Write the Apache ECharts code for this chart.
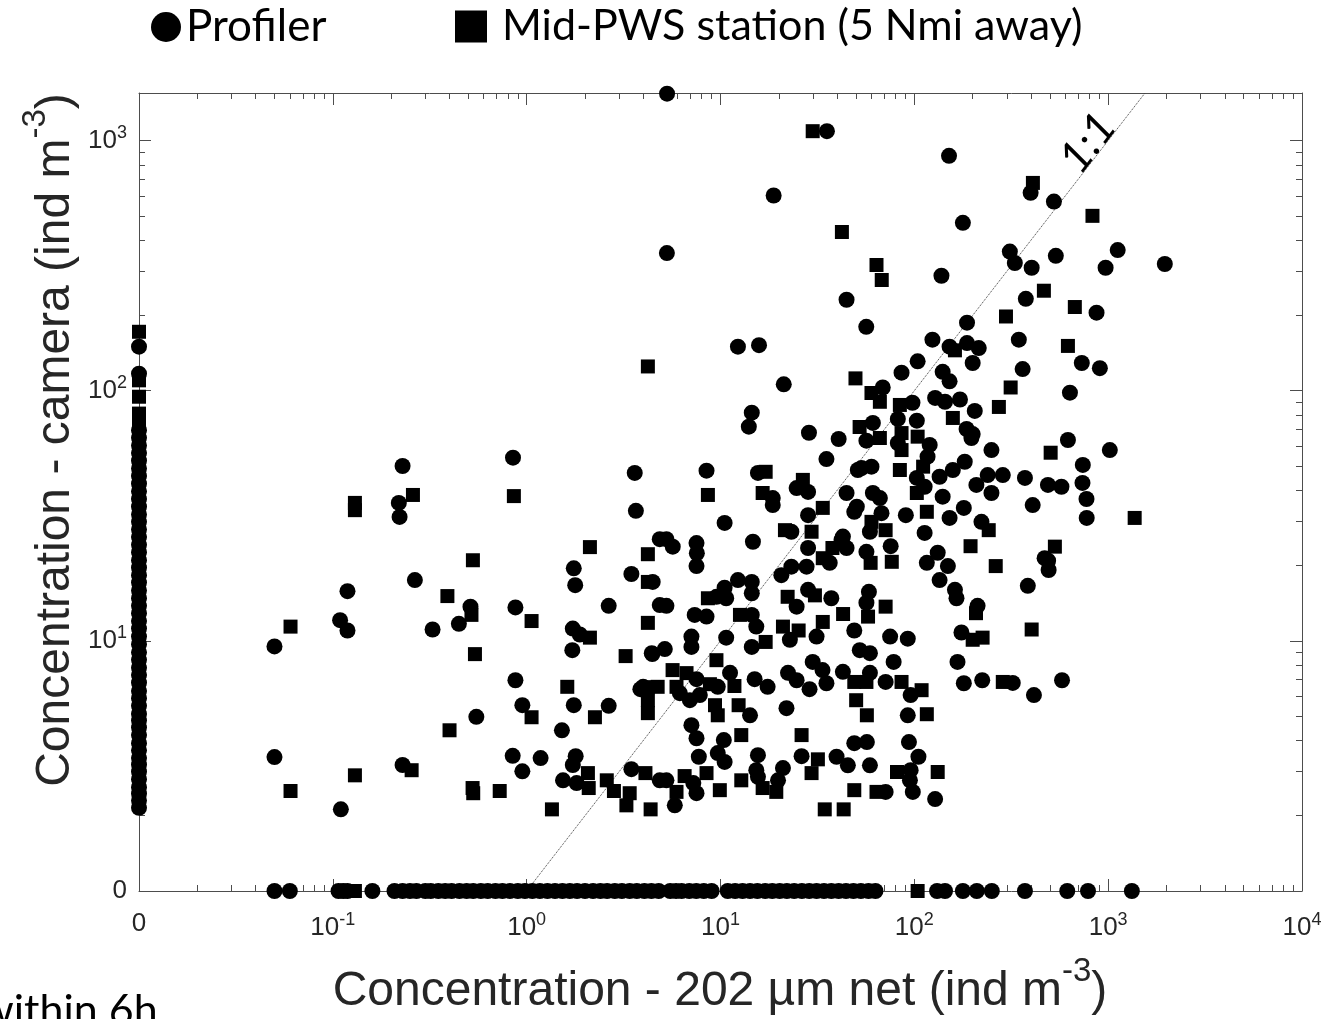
<!DOCTYPE html>
<html><head><meta charset="utf-8">
<script src="https://cdn.jsdelivr.net/npm/echarts@6/dist/echarts.min.js"></script>
<style>html,body{margin:0;padding:0;background:#fff;overflow:hidden;} #c{width:1323px;height:1019px;}</style>
</head><body><div id="c"></div>
<script>
// ---- Data (ind m^-3): [net, camera] ----
const profiler = [
[0.05,9.5],[0.109,12.1],[0.119,11.0],[0.119,15.8],[0.05,3.43],[0.11,2.12],[0.229,3.19],[0.265,17.5],[0.221,31.3],[0.219,35.6],[0.229,50],[0.327,11.1],[0.447,11.7],[0.513,13.7],[0.55,4.97],[0.85,54],[0.875,13.6],[0.875,6.96],[0.95,5.53],[0.847,3.47],[0.95,3.01],[1.18,3.40],[1.52,4.39],[1.73,3.19],[1.54,2.77],[1.81,2.70],[1.79,3.46],[1.75,5.53],[1.72,9.18],[1.73,11.2],[1.88,10.6],[1.75,19.5],[1.78,16.7],[2.65,13.8],[3.47,18.5],[2.65,5.5],[3.47,3.07],[3.86,6.41],[3.66,33.1],[3.61,46.9],[4.47,17.2],[4.45,8.85],[4.86,25.5],[4.86,13.9],[4.86,2.77],[5.29,355],[5.3,1540],[8.47,47.9],[15.6,46.9],[18.8,603],[12.3,150],[15.8,152],[21.2,106],[14.5,81.7],[14.0,71.8],[28.6,67.9],[40.7,64.1],[35.2,53.3],[35.4,1090],[44.7,231],[56.5,180],[24.7,40.8],[28.3,39.4],[51.1,48.2],[44.7,39.0],[18.6,37.2],[18.6,34.9],[28.3,31.8],[50.5,34.4],[10.5,29.6],[14.7,24.9],[23.2,27.3],[5.26,25.5],[5.67,23.8],[7.52,24.6],[7.55,22.4],[7.52,19.9],[28.3,23.5],[42.1,25.3],[44.7,23.5],[36.6,20.5],[27.8,19.8],[23.2,19.8],[20.6,18.3],[10.5,16.3],[12.3,17.5],[14.5,17.2],[14.5,15.5],[9.53,15.0],[10.7,14.8],[24.7,13.7],[28.3,16.0],[37.3,14.8],[5.26,13.8],[7.36,12.7],[8.47,12.5],[14.5,12.7],[15.3,11.4],[22.8,10.1],[31.3,10.4],[49.0,11.0],[10.7,10.3],[14.5,9.46],[7.08,10.4],[7.08,9.46],[4.42,8.93],[5.16,9.27],[11.2,7.45],[15.0,7.03],[17.5,6.55],[22.3,7.45],[24.7,6.96],[28.8,6.41],[29.9,8.24],[33.6,7.64],[35.2,6.77],[42.8,7.52],[7.52,7.03],[3.99,6.55],[6.17,6.18],[6.95,5.79],[7.82,6.07],[9.68,6.55],[14.2,5.04],[21.9,5.38],[7.08,4.60],[7.52,4.08],[10.4,4.01],[7.73,3.44],[9.68,3.56],[10.5,3.28],[15.6,3.49],[15.3,3.04],[21.0,3.10],[26.2,3.46],[39.7,3.44],[45.4,3.18],[49.0,3.90],[5.26,2.77],[7.24,2.70],[7.52,2.46],[5.81,2.20],[15.6,2.86],[19.8,2.77],
[151,869],[398,618],[525,570],[178,469],[311,360],[330,324],[403,310],[537,346],[138,288],[376,233],[187,187],[124,160],[152,150],[187,155],[215,148],[200,129],[346,160],[362,122],[104,131],[85.9,118],[140,119],[152,109],[68.7,103],[97.8,89.5],[128,93.6],[144,90.3],[172,92.2],[205,83],[61.1,74.3],[82.2,77.1],[103,75.9],[186,70.3],[200,67.1],[197,64.7],[56.6,63.1],[82.2,61.8],[120,60.7],[117,54.5],[182,52],[250,57.9],[53.4,49.1],[60.1,49.7],[103,44.8],[135,45.3],[158,48.2],[209,42],[239,46],[286,46],[372,44.8],[489,42],[250,39],[61.1,39],[140,37.7],
[49,32.8],[66.4,37.2],[67.7,32.4],[113,41.3],[90.4,31.8],[152,31],[180,34],[222,29.9],[408,34.9],[59,27.3],[113,27],[42.8,26.1],[56.6,22.7],[75.5,23.9],[116,20.5],[132,22.5],[149,19.9],[135,17.5],[162,16],[165,14.8],[212,13.8],[385,16.6],[470,21.4],[493,19.2],[58.3,15.7],[56.6,14.2],[75,10.4],[92.5,10.2],[175,10.8],[52.3,9.18],[59,8.93],[78.2,8.24],[167,8.24],[59,7.45],[71.1,6.85],[95.7,6.07],[180,6.77],[224,6.96],[322,6.79],[414,6.07],[578,6.96],[92.5,5.04],[56.9,3.94],[93.8,3.94],[105,3.44],[59,3.18],[95.7,3.04],[94.9,2.77],[71.1,2.49],[98.2,2.49],[128,2.33],
[1120,365],[970,310],[1960,321],[871,205],[731,129],[906,123],[635,98.2],[620,63.5],[1020,57.9],[740,50.5],[574,41.3],[737,42.8],[773,36.9],[775,31],[490,20.9]
];
// profiler samples with net = 0 (camera values)
const profilerNetZero = [2.15,2.3,2.45,2.6,2.8,3.0,3.2,3.4,3.65,3.9,4.2,4.5,4.8,5.1,5.5,5.9,6.3,6.8,7.3,7.8,8.4,9.0,9.7,10.4,11.2,12,12.9,13.8,14.8,15.9,17.1,18.3,19.6,21,22.6,24.2,26,27.9,29.9,32,34.4,36.9,39.6,42.5,45.6,48.9,52.5,56.3,60.4,64.8,69.5,117,150];
// profiler samples with camera = 0 (net values)
const profilerCamZero = [0.05,0.06,0.107,0.113,0.119,0.16,0.208,0.229,0.25,0.27,0.3,0.32,0.35,0.38,0.41,0.45,0.49,0.53,0.58,0.63,0.69,0.75,0.82,0.9,0.98,1.07,1.17,1.28,1.4,1.53,1.67,1.82,2.0,2.2,2.4,2.6,2.85,3.1,3.4,3.7,4.05,4.4,4.8,5.5,5.9,6.3,6.9,7.5,8.2,9.0,10.9,11.9,13,14.2,15.5,17,18.5,20.2,22,24,26.3,28.7,31.3,34.2,37.3,40.7,44.4,48.5,53,58,63,131,144,178,210,251,372,615,787,1325];

const station = [
[0.0605,11.4],[0.0605,2.51],[0.13,2.90],[0.255,3.04],[0.13,35.6],[0.13,33.3],[0.259,38.3],[0.859,37.9],[2.12,23.7],[0.528,21.0],[4.22,22.2],[4.22,17.2],[0.39,15.1],[0.519,12.7],[1.06,12.0],[4.22,11.8],[2.12,10.3],[0.541,8.85],[3.24,8.69],[1.62,6.55],[1.06,4.95],[2.25,4.95],[4.22,6.53],[4.22,5.79],[4.22,5.14],[0.40,4.39],[2.07,2.96],[2.09,2.58],[2.59,2.77],[2.82,2.51],[4.1,2.96],[3.4,2.46],[3.27,2.20],[4.36,2.12],[0.526,2.58],[0.53,2.46],[0.726,2.51],[1.35,2.12],[4.22,125],[29.9,1090],[42.3,431],[49.7,112],[52.2,71.6],[17.1,47.4],[26.6,44],[8.61,38.3],[16.5,39],[33.7,34],[21.5,27.7],[29.5,27.3],[37.8,23.5],[33.7,21.4],[8.61,14.8],[22.2,15],[30.7,15.2],[12.6,12.7],[21,11.4],[25.3,11],[33.7,11.9],[42.9,12.8],[17.1,9.9],[9.53,8.37],[49,6.85],[5.66,7.64],[6.68,7.43],[4.74,6.55],[5.93,6.55],[8.82,6.71],[11.8,6.6],[9.37,5.53],[9.68,5.04],[12.4,5.53],[50.1,5.79],[12.8,4.2],[26.2,4.2],[31.8,3.36],[29.5,2.96],[6.53,2.88],[8.47,2.96],[5.93,2.49],[9.92,2.53],[12.8,2.77],[16.5,2.58],[19.4,2.49],[34.5,2.12],[43.2,2.12],[49,2.53],
[409,677],[63.8,318],[67.9,277],[466,251],[297,198],[162,145],[60.1,97.9],[66.4,90.3],[84.2,87.7],[314,103],[273,86.1],[158,77.8],[85.9,67.7],[66.4,64.7],[104,65.5],[85.9,57.9],[111,49.7],[84.2,48.2],[505,56.5],[103,39],
[116,32.8],[242,27.7],[60.1,29.9],[71.1,27.7],[59.5,20.5],[76.5,20.7],[195,23.9],[263,19.9],[208,12.9],[531,23.8],[403,11.1],[57.7,12.5],[71.1,13.7],[200,10.1],[225,10.3],[56.6,6.85],[85.9,6.85],[109,6.35],[286,6.85],[56.9,5.04],[116,5.09],[81.4,2.99],[132,2.99],[63.8,2.49],
[830,500],[673,216],[620,151],[1370,31]
];
const stationNetZero = [172,110,94.6,81,72,64,50,20,8];
const stationCamZero = [0.13,1.05,30,104];

const oneToOne = [1, 1549];
const xTickValues = [0, 0.1, 1, 10, 100, 1000, 10000];
const xTickLabels = ['0','10^-1','10^0','10^1','10^2','10^3','10^4'];
const yTickValues = [0, 10, 100, 1000];
const yTickLabels = ['0','10^1','10^2','10^3'];

// ---- scale helpers: log10 axes where 0 sits at the lower end ----
const X_MIN = -2, X_MAX = 4, Y_MIN = 0, Y_MAX = Math.log10(1549);
const lx = v => v === 0 ? X_MIN : Math.log10(v);
const ly = v => v === 0 ? Y_MIN : Math.log10(v);
function buildPoints(pairs, netZero, camZero) {
  const out = pairs.map(p => [lx(p[0]), ly(p[1])]);
  netZero.forEach(y => out.push([lx(0), ly(y)]));
  camZero.forEach(x => out.push([lx(x), ly(0)]));
  return out;
}
function minorTicks(lo, hi) {
  const r = [];
  for (let d = Math.floor(lo); d < hi; d++) for (let m = 2; m <= 9; m++) {
    const v = d + Math.log10(m); if (v > lo + 1e-9 && v < hi - 1e-9) r.push(v);
  }
  return r;
}
function fmt(vals, labels, f) {
  return function (v) {
    for (let i = 0; i < vals.length; i++) {
      if (Math.abs(f(vals[i]) - v) < 1e-6) {
        const t = labels[i];
        if (t.indexOf('^') < 0) return '{z|' + t + '}';
        const parts = t.split('^');
        return '{b|' + parts[0] + '}{s|' + parts[1] + '}';
      }
    }
    return '';
  };
}

const AX = '#4d4d4d', TXT = '#262626';
const FONT = '"Liberation Sans", Arial, Helvetica, sans-serif';
const rich = {
  b: {fontSize: 26, lineHeight: 34, fontFamily: FONT, color: TXT},
  s: {fontSize: 18, lineHeight: 18, verticalAlign: 'top', fontFamily: FONT, color: TXT},
  z: {fontSize: 26, lineHeight: 26, fontFamily: FONT, color: TXT}
};
const xMajor = xTickValues.map(lx).filter(v => v > X_MIN && v < X_MAX);
const yMajor = yTickValues.map(ly).filter(v => v > Y_MIN && v < Y_MAX);
const xMinor = minorTicks(X_MIN, X_MAX);
const yMinor = minorTicks(Y_MIN, Y_MAX);

function axis(kind, pos, ticks, len, line, labels) {
  const a = {
    type: 'value', position: pos,
    min: kind === 'x' ? X_MIN : Y_MIN, max: kind === 'x' ? X_MAX : Y_MAX,
    splitLine: {show: false},
    axisLine: {show: line, onZero: false, lineStyle: {color: AX, width: 1}},
    axisTick: {show: true, inside: true, length: len, customValues: ticks, lineStyle: {color: AX, width: 1}},
    axisLabel: {show: false}
  };
  if (labels) {
    const vals = kind === 'x' ? xTickValues : yTickValues;
    const labs = kind === 'x' ? xTickLabels : yTickLabels;
    const f = kind === 'x' ? lx : ly;
    a.axisLabel = {
      show: true, customValues: vals.map(f), formatter: fmt(vals, labs, f), rich: rich,
      fontSize: 26, fontFamily: FONT, color: TXT,
      margin: kind === 'x' ? 20 : 12, showMinLabel: true, showMaxLabel: true, hideOverlap: false
    };
  }
  return a;
}

const chart = echarts.init(document.getElementById('c'), null, {renderer: 'canvas'});
chart.setOption({
  animation: false,
  backgroundColor: '#ffffff',
  grid: {left: 139, right: 21, top: 93, bottom: 128, containLabel: false, outerBoundsMode: 'none'},
  xAxis: [
    axis('x', 'bottom', xMajor, 12, true, true),
    axis('x', 'bottom', xMinor, 6, false, false),
    axis('x', 'top', xMajor, 12, true, false),
    axis('x', 'top', xMinor, 6, false, false)
  ],
  yAxis: [
    axis('y', 'left', yMajor, 12, true, true),
    axis('y', 'left', yMinor, 6, false, false),
    axis('y', 'right', yMajor, 12, true, false),
    axis('y', 'right', yMinor, 6, false, false)
  ],
  legend: [
    {left: 146, top: 0, itemWidth: 30, itemHeight: 30, itemGap: 0, selectedMode: false,
     data: [{name: 'Profiler', icon: 'circle'}],
     textStyle: {fontFamily: 'Lato, "Open Sans", sans-serif', fontSize: 44, color: '#000'}},
    {left: 450, top: 0, itemWidth: 32, itemHeight: 32, itemGap: 0, selectedMode: false,
     data: [{name: 'Mid-PWS station (5 Nmi away)', icon: 'rect'}],
     textStyle: {fontFamily: 'Lato, "Open Sans", sans-serif', fontSize: 43, color: '#000', padding: [0, 0, 0, 10]}}
  ],
  series: [
    {type: 'line', name: '1:1', xAxisIndex: 0, yAxisIndex: 0, silent: true, symbol: 'none',
     data: oneToOne.map(v => [lx(v), ly(v)]),
     lineStyle: {type: 'dotted', width: 1, color: '#3a3a3a'}, z: 1},
    {type: 'scatter', name: 'Profiler', xAxisIndex: 0, yAxisIndex: 0, symbol: 'circle', symbolSize: 16, clip: false,
     itemStyle: {color: '#000', opacity: 1}, data: buildPoints(profiler, profilerNetZero, profilerCamZero), z: 3},
    {type: 'scatter', name: 'Mid-PWS station (5 Nmi away)', xAxisIndex: 0, yAxisIndex: 0, symbol: 'rect', symbolSize: 14, clip: false,
     itemStyle: {color: '#000', opacity: 1}, data: buildPoints(station, stationNetZero, stationCamZero), z: 4}
  ],
  graphic: [
    {type: 'text', x: 720, y: 992, z: 10,
     style: {text: '{a|Concentration - 202 µm net (ind m}{s|-3}{a|)}', textAlign: 'center', textVerticalAlign: 'middle',
       rich: {a: {fontSize: 48, lineHeight: 74, fontFamily: FONT, fill: TXT, color: TXT},
              s: {fontSize: 33, lineHeight: 33, verticalAlign: 'top', fontFamily: FONT, fill: TXT, color: TXT}}}},
    {type: 'text', x: 56, y: 440, rotation: Math.PI / 2, z: 10,
     style: {text: '{a|Concentration - camera (ind m}{s|-3}{a|)}', textAlign: 'center', textVerticalAlign: 'middle',
       rich: {a: {fontSize: 48, lineHeight: 74, fontFamily: FONT, fill: TXT, color: TXT},
              s: {fontSize: 33, lineHeight: 33, verticalAlign: 'top', fontFamily: FONT, fill: TXT, color: TXT}}}},
    {type: 'text', x: 1088, y: 143, rotation: 52.2 * Math.PI / 180, z: 10,
     style: {text: '1:1', font: 'italic 44px Lato, "Open Sans", sans-serif', fill: '#000', textAlign: 'center', textVerticalAlign: 'middle'}},
    {type: 'text', x: -20, y: 990, z: 10,
     style: {text: 'within 6h', font: '43px Lato, "Open Sans", sans-serif', fill: '#000', textAlign: 'left', textVerticalAlign: 'top'}}
  ]
});
</script>
</body></html>
